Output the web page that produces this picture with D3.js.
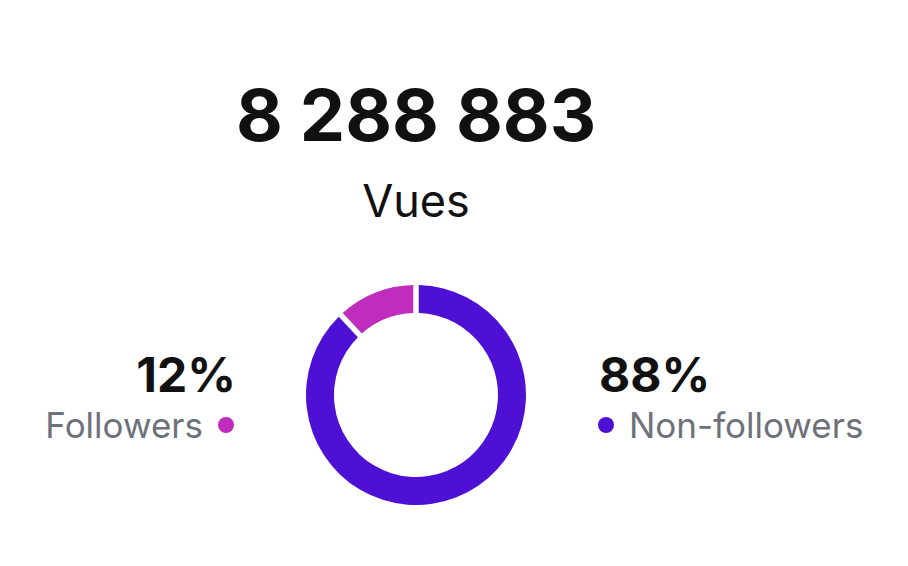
<!DOCTYPE html>
<html><head><meta charset="utf-8">
<script src="https://cdn.jsdelivr.net/npm/d3@7"></script>
<style>html,body{margin:0;padding:0;background:#fff;}svg{display:block;font-family:Inter,"Noto Sans",sans-serif;}</style>
</head><body>
<svg id="c" width="908" height="566"></svg>
<script>
const totalLabel = "8 288 883";
const subtitle = "Vues";
const categories = ["Non-followers", "Followers"];
const values = [88, 12];
const colors = ["#4F10D6", "#C02CBE"];

const svg = d3.select("#c");
const cx = 416, cy = 395;

svg.append("text").attr("x", 416).attr("y", 141).attr("text-anchor", "middle")
  .attr("font-size", 72).attr("font-weight", 700).attr("fill", "#111111").text(totalLabel);
svg.append("text").attr("x", 416).attr("y", 217).attr("text-anchor", "middle")
  .attr("font-size", 45).attr("font-weight", 400).attr("fill", "#111111").text(subtitle);

const pie = d3.pie().sort(null).value(d => d)(values);
const arc = d3.arc().innerRadius(82).outerRadius(110).padAngle(0.04);
const g = svg.append("g").attr("transform", `translate(${cx},${cy})`);
g.selectAll("path").data(pie).join("path").attr("d", arc).attr("fill", (d, i) => colors[i]);

// Left label (Followers)
svg.append("text").attr("x", 236).attr("y", 392).attr("text-anchor", "end")
  .attr("font-size", 48).attr("font-weight", 700).attr("fill", "#111111").text(values[1] + "%");
svg.append("text").attr("x", 203).attr("y", 438).attr("text-anchor", "end")
  .attr("font-size", 35).attr("fill", "#6E717A").text(categories[1]);
svg.append("circle").attr("cx", 226).attr("cy", 425).attr("r", 8).attr("fill", colors[1]);

// Right label (Non-followers)
svg.append("text").attr("x", 599).attr("y", 392).attr("text-anchor", "start")
  .attr("font-size", 48).attr("font-weight", 700).attr("fill", "#111111").text(values[0] + "%");
svg.append("circle").attr("cx", 606).attr("cy", 425).attr("r", 8).attr("fill", colors[0]);
svg.append("text").attr("x", 629).attr("y", 438).attr("text-anchor", "start")
  .attr("font-size", 35).attr("fill", "#6E717A").text(categories[0]);
</script>
</body></html>
